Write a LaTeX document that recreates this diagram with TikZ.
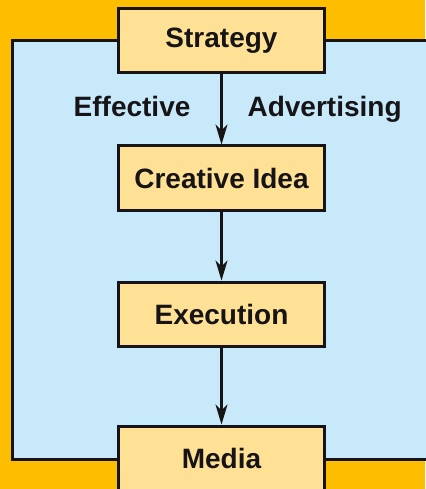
\documentclass[tikz,border=0pt]{standalone}
\usepackage{fontspec}
\setmainfont{Liberation Sans}
\usetikzlibrary{
    arrows.meta,
    positioning,
    backgrounds
}
\definecolor{bgorange}{RGB}{253,190,0}
\definecolor{panelblue}{RGB}{199,233,250}
\definecolor{boxfill}{RGB}{255,225,150}
\definecolor{inkdark}{RGB}{22,20,22}

\begin{document}
\begin{tikzpicture}[
        x=1pt, y=-1pt,
        every node/.style={
            font=\fontsize{28pt}{33pt}\selectfont\bfseries,
            text=inkdark
        },
        panel/.style={
            draw=inkdark,
            line width=3pt,
            fill=panelblue
        },
        stage/.style={
            rectangle,
            draw=inkdark,
            line width=3pt,
            fill=boxfill,
            minimum width=206pt,
            minimum height=64pt,
            align=center
        },
        caption/.style={
            inner sep=0pt,
            text height=20pt,
            text depth=6pt
        },
        arrow/.style={
            -{Stealth[length=20pt,width=12pt,inset=6pt]},
            line width=2.2pt,
            draw=inkdark
        }
    ]

    \useasboundingbox (0,0) rectangle (425,489);
    \clip (0,0) rectangle (425,489);

    \node[stage] (strategy) at (221.5,40.5) {Strategy};
    \node[stage] (creative) at (221.5,178) {Creative Idea};
    \node[stage] (execution) at (221.5,314) {Execution};
    \node[stage] (media) at (221.5,458) {Media};

    \draw[arrow] (strategy) --
        node[caption, left=30pt] (effective) {Effective}
        node[caption, right=25pt] (advertising) {Advertising}
        (creative);
    \draw[arrow] (creative) -- (execution);
    \draw[arrow] (execution) -- (media);

    \begin{scope}[on background layer]
        \fill[bgorange] (0,0) rectangle (425,489);
        \draw[panel] (12.5,41) rectangle (440,459);
    \end{scope}

    \end{tikzpicture}
\end{document}
